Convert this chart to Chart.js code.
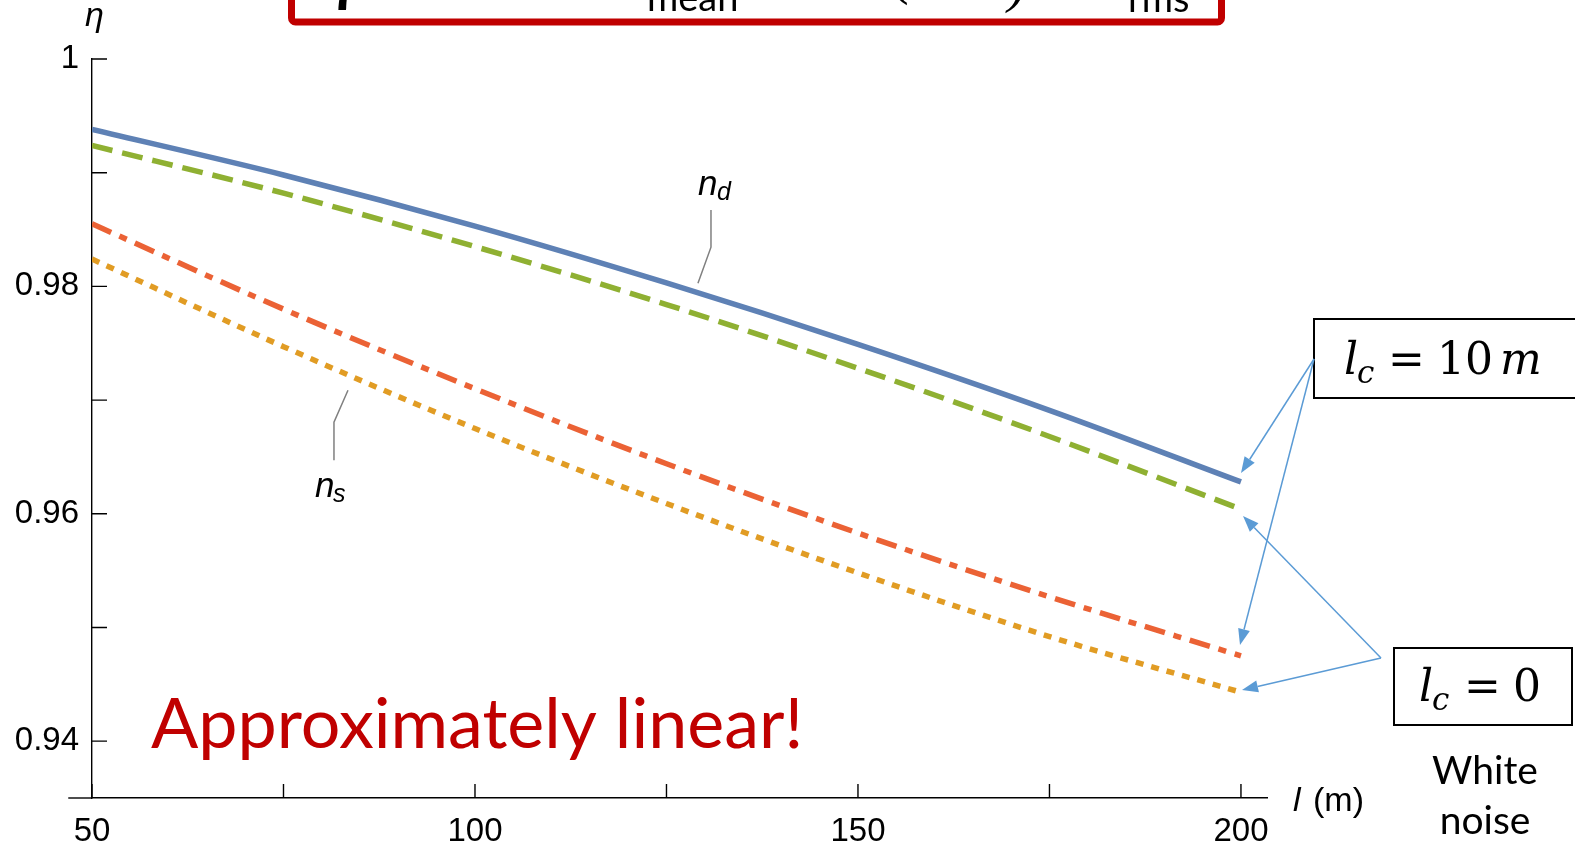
<!DOCTYPE html>
<html>
<head>
<meta charset="utf-8">
<script src="https://cdn.jsdelivr.net/npm/chart.js@4.4.1/dist/chart.umd.min.js"></script>
<style>
  html, body { margin: 0; padding: 0; background: #fff; }
  #wrap { width: 1575px; height: 843px; position: relative; }
</style>
</head>
<body>
<div id="wrap"><canvas id="c"></canvas></div>
<script>
// link length l (m)
const lengths = [50, 75, 100, 125, 150, 175, 200];

// efficiency eta for each noise model
const etaDCorrelated = [0.9938, 0.9898, 0.9853, 0.9803, 0.9749, 0.9691, 0.9628]; // n_d, l_c = 10 m
const etaDWhite      = [0.9924, 0.9882, 0.9835, 0.9784, 0.9728, 0.9668, 0.9604]; // n_d, l_c = 0
const etaSCorrelated = [0.9855, 0.9780, 0.9710, 0.9644, 0.9583, 0.9527, 0.9475]; // n_s, l_c = 10 m
const etaSWhite      = [0.9824, 0.9747, 0.9675, 0.9609, 0.9548, 0.9492, 0.9443]; // n_s, l_c = 0

// axis ticks
const xTicks = [50, 75, 100, 125, 150, 175, 200];
const xTickLabels = ['50', '', '100', '', '150', '', '200'];
const yTicks = [0.94, 0.95, 0.96, 0.97, 0.98, 0.99, 1];
const yTickLabels = ['0.94', '', '0.96', '', '0.98', '', '1'];

const AXIS_FONT = 'Liberation Sans';
const SERIF = 'Liberation Serif';
const MATH = 'DejaVu Serif';

function series(label, values, color, dash) {
  return {
    label,
    data: lengths.map((x, i) => ({ x, y: values[i] })),
    borderColor: color,
    borderWidth: 5.5,
    borderDash: dash,
    borderCapStyle: 'butt',
    pointRadius: 0,
    fill: false,
    cubicInterpolationMode: 'monotone'
  };
}

function arrow(ctx, x0, y0, x1, y1) {
  const ang = Math.atan2(y1 - y0, x1 - x0);
  const len = 16, half = 6;
  const bx = x1 - len * Math.cos(ang), by = y1 - len * Math.sin(ang);
  ctx.beginPath();
  ctx.moveTo(x0, y0);
  ctx.lineTo(bx, by);
  ctx.stroke();
  ctx.beginPath();
  ctx.moveTo(x1, y1);
  ctx.lineTo(bx + half * Math.sin(ang), by - half * Math.cos(ang));
  ctx.lineTo(bx - half * Math.sin(ang), by + half * Math.cos(ang));
  ctx.closePath();
  ctx.fill();
}

function runs(ctx, baseline, items) {
  for (const [text, font, x, dy] of items) {
    ctx.font = font;
    ctx.fillText(text, x, baseline + (dy || 0));
  }
}

const decorations = {
  id: 'decorations',
  afterDraw(chart) {
    const ctx = chart.ctx;
    const xs = chart.scales.x, ys = chart.scales.y;
    const area = chart.chartArea;
    ctx.save();

    // x axis line continues a little left of the y axis
    ctx.strokeStyle = '#000';
    ctx.lineWidth = 1.4;
    ctx.beginPath();
    ctx.moveTo(xs.getPixelForValue(46.9), area.bottom);
    ctx.lineTo(area.left, area.bottom);
    ctx.stroke();

    // inward tick marks
    ctx.beginPath();
    for (const v of xTicks) {
      const px = xs.getPixelForValue(v);
      ctx.moveTo(px, area.bottom);
      ctx.lineTo(px, area.bottom - 14);
    }
    for (const v of yTicks) {
      const py = ys.getPixelForValue(v);
      ctx.moveTo(area.left, py);
      ctx.lineTo(area.left + 15, py);
    }
    ctx.stroke();

    // axis titles
    ctx.fillStyle = '#000';
    ctx.textBaseline = 'alphabetic';
    ctx.textAlign = 'left';
    runs(ctx, 26, [['η', 'italic 34px ' + AXIS_FONT, 85]]);
    runs(ctx, 811, [
      ['l', 'italic 34px ' + AXIS_FONT, 1293],
      ['(m)', '34px ' + AXIS_FONT, 1313]
    ]);

    // curve labels with leaders
    ctx.strokeStyle = '#808080';
    ctx.lineWidth = 1.5;
    const P = (x, y) => [xs.getPixelForValue(x), ys.getPixelForValue(y)];
    const leader = (pts) => {
      ctx.beginPath();
      pts.forEach(([x, y], i) => {
        const [px, py] = P(x, y);
        if (i === 0) ctx.moveTo(px, py); else ctx.lineTo(px, py);
      });
      ctx.stroke();
    };
    leader([[130.81, 0.98671], [130.81, 0.98345], [129.11, 0.98028]]);
    leader([[81.59, 0.96470], [81.59, 0.96805], [83.42, 0.97086]]);
    ctx.fillStyle = '#000';
    let [lx, ly] = P(129.11, 0.98803);
    runs(ctx, ly, [['n', 'italic 35px ' + AXIS_FONT, lx], ['d', 'italic 25px ' + AXIS_FONT, lx + 19, 5]]);
    [lx, ly] = P(79.11, 0.96144);
    runs(ctx, ly, [['n', 'italic 35px ' + AXIS_FONT, lx], ['s', 'italic 25px ' + AXIS_FONT, lx + 18, 5]]);

    // headline note
    ctx.fillStyle = '#C00000';
    ctx.font = '70px Lato';
    ctx.fillText('Approximately linear!', 151, 748);

    // formula banner at the top, partly above the page edge
    ctx.save();
    ctx.beginPath();
    ctx.rect(295, 0, 923, 19);
    ctx.clip();
    ctx.fillStyle = '#000';
    runs(ctx, -2, [['η', 'bold italic 56px ' + SERIF, 322]]);
    runs(ctx, 11, [['mean', '38px Lato', 647]]);
    runs(ctx, -7, [['(', '56px ' + SERIF, 890]]);
    runs(ctx, 1, [[')', 'italic 56px ' + SERIF, 1008]]);
    runs(ctx, 12, [['rms', '38px Lato', 1128]]);
    ctx.restore();
    ctx.strokeStyle = '#C00000';
    ctx.lineWidth = 7;
    ctx.beginPath();
    ctx.roundRect(291.5, -30, 930, 52, 4);
    ctx.stroke();

    // correlation-length boxes
    ctx.strokeStyle = '#000';
    ctx.lineWidth = 2;
    ctx.strokeRect(1314, 319, 300, 79);
    ctx.strokeRect(1394, 648, 178, 77);
    ctx.fillStyle = '#000';
    runs(ctx, 374, [
      ['l', 'italic 44px ' + MATH, 1344],
      ['c', 'italic 31px ' + MATH, 1357, 9],
      ['=', '44px ' + MATH, 1388],
      ['10', '44px ' + MATH, 1437],
      ['m', 'italic 44px ' + MATH, 1500]
    ]);
    runs(ctx, 701, [
      ['l', 'italic 44px ' + MATH, 1419],
      ['c', 'italic 31px ' + MATH, 1432, 9],
      ['=', '44px ' + MATH, 1464],
      ['0', '44px ' + MATH, 1513]
    ]);
    ctx.textAlign = 'center';
    ctx.font = '39px Lato';
    ctx.fillText('White', 1485, 784);
    ctx.fillText('noise', 1485, 834);

    // pointer arrows
    ctx.strokeStyle = '#5B9BD5';
    ctx.fillStyle = '#5B9BD5';
    ctx.lineWidth = 1.5;
    arrow(ctx, 1314, 359, 1241, 473);
    arrow(ctx, 1314, 359, 1240, 645);
    arrow(ctx, 1381, 658, 1243, 516);
    arrow(ctx, 1381, 658, 1242, 690);

    ctx.restore();
  }
};

const tickFont = { family: AXIS_FONT, size: 33 };

new Chart(document.getElementById('c'), {
  type: 'line',
  data: {
    datasets: [
      series('n_d, l_c = 10 m', etaDCorrelated, '#5E81B5', []),
      series('n_d, l_c = 0', etaDWhite, '#8FB032', [21, 10]),
      series('n_s, l_c = 10 m', etaSCorrelated, '#EB6235', [21, 9, 8, 9]),
      series('n_s, l_c = 0', etaSWhite, '#E19C24', [8, 8])
    ]
  },
  options: {
    responsive: true,
    maintainAspectRatio: false,
    animation: false,
    devicePixelRatio: 1,
    layout: { padding: { left: 0, top: 59, right: 308, bottom: 0 } },
    plugins: { legend: { display: false }, tooltip: { enabled: false } },
    scales: {
      x: {
        type: 'linear',
        min: 50,
        max: 203.4,
        afterBuildTicks: s => { s.ticks = xTicks.map(v => ({ value: v })); },
        afterFit: s => { s.height = 45; },
        grid: { display: false },
        border: { display: true, color: '#000', width: 1.4 },
        ticks: {
          autoSkip: false, maxRotation: 0, padding: 6, color: '#000', font: tickFont,
          callback: (v, i) => xTickLabels[i]
        }
      },
      y: {
        type: 'linear',
        min: 0.935,
        max: 1,
        afterBuildTicks: s => { s.ticks = yTicks.map(v => ({ value: v })); },
        afterFit: s => { s.width = 92; },
        grid: { display: false },
        border: { display: true, color: '#000', width: 1.4 },
        ticks: {
          autoSkip: false, padding: 5, color: '#000', font: tickFont,
          callback: (v, i) => yTickLabels[i]
        }
      }
    }
  },
  plugins: [decorations]
});
</script>
</body>
</html>
